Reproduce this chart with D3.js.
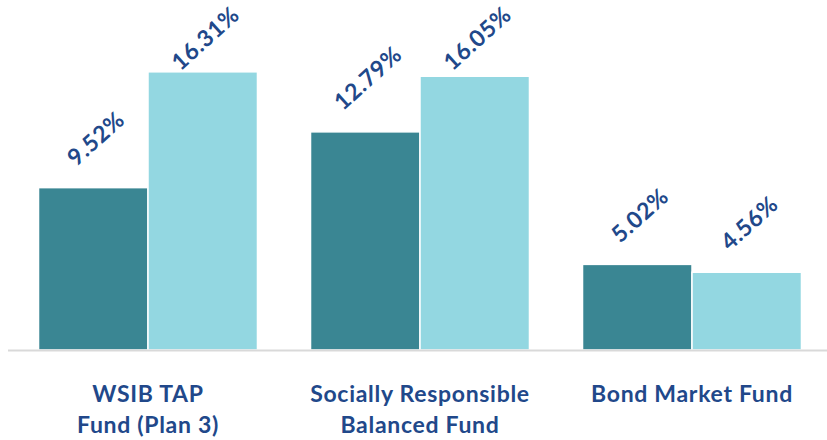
<!DOCTYPE html>
<html><head><meta charset="utf-8">
<script src="https://cdn.jsdelivr.net/npm/d3@7"></script>
<style>body{margin:0;background:#fff}svg{display:block}</style>
</head><body>
<svg id="c" width="827" height="440"></svg>
<script>
const categories = [["WSIB TAP","Fund (Plan 3)"],["Socially Responsible","Balanced Fund"],["Bond Market Fund"]];
const seriesNames = ["Series A","Series B"];
const seriesA = [9.52, 12.79, 5.02];
const seriesB = [16.31, 16.05, 4.56];
const colors = ["#3A8693","#93D7E1"];

const svg = d3.select("#c");
const base = 350;
const x = d3.scaleBand().domain(d3.range(categories.length)).range([12, 828]).paddingInner(0.195).paddingOuter(0.0975);
const xi = d3.scaleBand().domain(seriesNames).range([0, x.bandwidth()]);
const y = d3.scaleLinear().domain([0, 18]).range([base, 43]);

const data = [seriesA, seriesB];
const fontLab = "'Lato','Open Sans',sans-serif";

categories.forEach((c, i) => {
  const g = svg.append("g").attr("transform", `translate(${x(i)},0)`);
  seriesNames.forEach((s, j) => {
    const v = data[j][i];
    g.append("rect")
      .attr("x", xi(s)).attr("y", y(v))
      .attr("width", xi.bandwidth()).attr("height", base - y(v))
      .attr("fill", colors[j]).attr("stroke", "#fff").attr("stroke-width", 1.5);
  });
});

// axis line
svg.append("line").attr("x1", 8).attr("x2", 827).attr("y1", base + 0.5).attr("y2", base + 0.5)
  .attr("stroke", "#D9D9D9").attr("stroke-width", 1.8);

// value labels
const ang = 42, rad = ang * Math.PI / 180;
categories.forEach((c, i) => {
  seriesNames.forEach((s, j) => {
    const v = data[j][i];
    const cx = x(i) + xi(s) + xi.bandwidth() / 2 + 2;
    const t = svg.append("text").text(v.toFixed(2) + "%")
      .attr("font-family", fontLab).attr("font-weight", 700).attr("font-size", 23)
      .attr("letter-spacing", 0.6)
      .attr("fill", "#21488A").attr("text-anchor", "middle").attr("dominant-baseline", "central");
    const w = t.node().getComputedTextLength();
    const h = 17;
    const bh = w * Math.sin(rad) + h * Math.cos(rad);
    let cy = y(v) - 21 - bh / 2;
    if (cy - bh / 2 < 4) cy = 4 + bh / 2;
    t.attr("transform", `translate(${cx},${cy}) rotate(${-ang})`);
  });
});

// category labels
categories.forEach((c, i) => {
  const t = svg.append("text").attr("text-anchor", "middle")
    .attr("font-family", fontLab).attr("font-weight", 700).attr("font-size", 23)
    .attr("letter-spacing", 0.7)
    .attr("fill", "#21488A");
  c.forEach((line, k) => {
    t.append("tspan").attr("x", x(i) + x.bandwidth() / 2).attr("y", 402 + k * 31).text(line);
  });
});
</script>
</body></html>
